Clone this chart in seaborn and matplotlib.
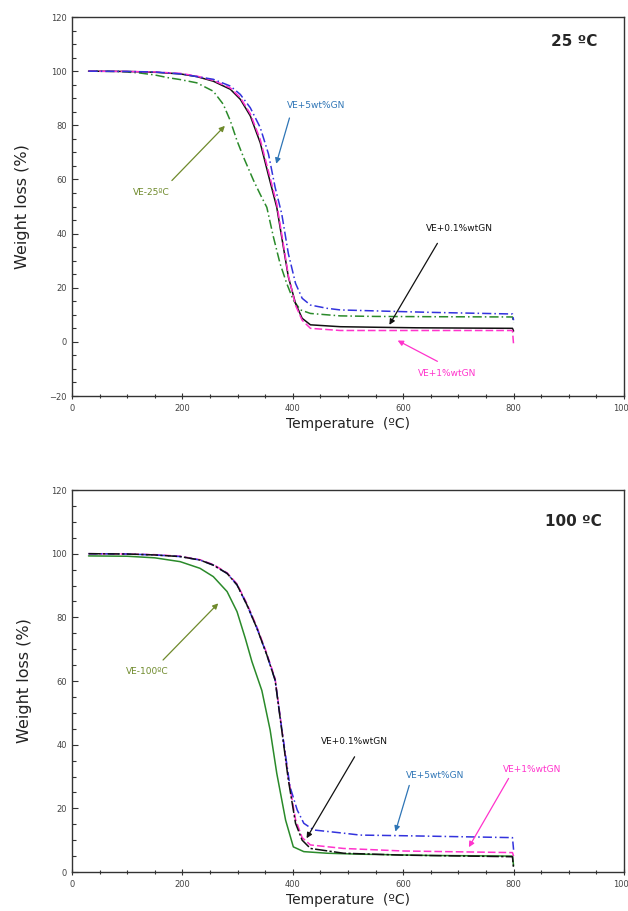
import matplotlib
matplotlib.use("Agg")
import matplotlib.pyplot as plt
import seaborn as sns
import pandas as pd
from matplotlib.ticker import MultipleLocator

# ---------------- data: 25 °C panel ----------------
t25_green = [30, 80, 120, 150, 174, 196, 226, 256, 274, 287, 299, 311, 329, 341, 353, 365, 377,
             389, 401, 414, 432, 486, 550, 650, 798, 800]
w25_green = [100, 99.9, 99.4, 98.6, 97.6, 96.9, 95.7, 92.6, 87.8, 81.6, 74.3, 68.1, 59.6, 54.5, 49.7,
             38.7, 28.9, 21.6, 15.4, 11.8, 10.5, 9.6, 9.4, 9.3, 9.2, 7.0]

t25_black = [30, 100, 150, 196, 226, 256, 287, 305, 323, 341, 356, 371, 383, 392, 405, 417, 432,
             486, 550, 624, 798, 800]
w25_black = [100, 99.9, 99.6, 99.0, 98.0, 96.3, 93.3, 89.6, 83.5, 73.6, 61.5, 49.7, 35.0, 24.0, 14.2,
             8.7, 6.3, 5.6, 5.4, 5.2, 5.0, 4.0]

t25_mag = [30, 100, 150, 196, 226, 256, 287, 305, 323, 341, 356, 371, 383, 392, 405, 417, 432,
           486, 550, 624, 798, 800]
w25_mag = [100, 99.9, 99.7, 99.2, 98.2, 96.6, 93.8, 90.2, 84.3, 74.8, 63.0, 51.0, 36.0, 24.5, 13.5,
           8.0, 5.0, 4.2, 4.2, 4.2, 4.2, -1.0]

t25_blue = [30, 100, 150, 196, 256, 287, 305, 323, 341, 356, 368, 380, 392, 405, 417, 432, 462,
            486, 575, 650, 798, 800]
w25_blue = [100, 99.9, 99.7, 99.0, 97.0, 94.5, 91.4, 86.5, 79.2, 69.4, 57.1, 47.3, 32.6, 21.6, 16.1,
            13.6, 12.4, 11.8, 11.3, 10.9, 10.3, 8.0]

# ---------------- data: 100 °C panel ----------------
t100_green = [30, 100, 150, 196, 232, 256, 281, 299, 314, 326, 344, 359, 371, 387, 401, 420, 462,
              522, 650, 798, 800]
w100_green = [99.3, 99.2, 98.7, 97.5, 95.4, 92.8, 88.1, 81.8, 73.4, 66.1, 57.0, 44.6, 31.0, 16.3, 7.9,
              6.4, 5.9, 5.6, 5.2, 5.0, 2.0]

t100_black = [30, 100, 150, 196, 232, 256, 281, 299, 317, 335, 353, 368, 380, 392, 405, 417, 432,
              492, 600, 798, 800]
w100_black = [100, 99.9, 99.6, 99.1, 98.0, 96.4, 93.8, 90.2, 83.9, 76.6, 68.2, 60.3, 44.6, 28.9, 15.3,
              10.0, 7.4, 5.9, 5.3, 4.8, 1.0]

t100_mag = [30, 100, 150, 196, 232, 256, 281, 299, 317, 335, 353, 368, 380, 392, 405, 417, 432,
            492, 600, 798, 800]
w100_mag = [100, 99.9, 99.7, 99.2, 98.1, 96.6, 94.0, 90.5, 84.3, 77.0, 68.6, 60.8, 45.2, 29.6, 16.5,
            10.8, 8.5, 7.4, 6.6, 6.1, 5.0]

t100_blue = [30, 100, 150, 196, 232, 256, 281, 299, 317, 335, 353, 368, 380, 395, 408, 420, 438,
             492, 522, 600, 700, 798, 800]
w100_blue = [100, 99.9, 99.6, 99.1, 98.0, 96.4, 93.8, 90.2, 83.9, 76.6, 68.2, 60.3, 45.0, 26.8, 19.5,
             15.3, 13.2, 12.2, 11.6, 11.4, 11.1, 10.8, 7.0]

xticks = [0, 200, 400, 600, 800, 1000]

C_BLACK = "#111111"
C_MAG = "#ff33cc"
C_BLUE = "#3333dd"
C_GREEN = "#2a8a2a"
T_BLUE = "#2e75b6"
T_OLIVE = "#6f8a2c"

DASHDOT = (0, (6, 2, 1, 2))
DASHED = (0, (5, 2))

sns.set_style("ticks")
plt.rcParams['font.family'] = ['DejaVu Sans']

fig = plt.figure(figsize=(6.28, 9.11), dpi=100)
ax1 = fig.add_axes([0.1146, 0.5653, 0.879, 0.416])
ax2 = fig.add_axes([0.1146, 0.0428, 0.879, 0.4193])


def draw(ax, specs):
    for (t, w), col, ls in specs:
        df = pd.DataFrame({"T": t, "W": w})
        sns.lineplot(data=df, x="T", y="W", ax=ax, color=col, lw=1.1,
                     sort=False, estimator=None, linestyle=ls)


draw(ax1, [((t25_green, w25_green), C_GREEN, DASHDOT),
           ((t25_black, w25_black), C_BLACK, "-"),
           ((t25_mag, w25_mag), C_MAG, DASHED),
           ((t25_blue, w25_blue), C_BLUE, DASHDOT)])
draw(ax2, [((t100_green, w100_green), C_GREEN, "-"),
           ((t100_mag, w100_mag), C_MAG, DASHED),
           ((t100_blue, w100_blue), C_BLUE, DASHDOT),
           ((t100_black, w100_black), C_BLACK, (0, (8, 1.5, 1.5, 1.5)))])

ax1.set_ylim(-20, 120)
ax2.set_ylim(0, 120)
for ax in (ax1, ax2):
    ax.set_xlim(0, 1000)
    ax.set_xticks(xticks)
    ax.xaxis.set_minor_locator(MultipleLocator(50))
    ax.yaxis.set_major_locator(MultipleLocator(20))
    ax.yaxis.set_minor_locator(MultipleLocator(5))
    ax.tick_params(which="both", direction="inout", labelsize=6, colors="#333333",
                   labelcolor="#444444", width=0.8)
    ax.tick_params(which="major", length=4)
    ax.tick_params(which="minor", length=3)
    ax.tick_params(axis="y", which="both", direction="in")
    for s in ax.spines.values():
        s.set_color("#333333")
        s.set_linewidth(1.0)
    ax.set_xlabel("Temperature  (ºC)", fontsize=10, color="#222222", labelpad=3)
    ax.set_ylabel("Weight loss (%)", fontsize=11.5, color="#222222", labelpad=14)

ax1.text(909, 111, "25 ºC", fontsize=11, fontweight="bold", ha="center", va="center")
ax2.text(909, 110, "100 ºC", fontsize=11, fontweight="bold", ha="center", va="center")


def ap(c):
    return dict(arrowstyle="-|>", color=c, lw=0.9, mutation_scale=8, shrinkA=0, shrinkB=0)


# top annotations
ax1.annotate("", xy=(370, 65.8), xytext=(394, 82.7), arrowprops=ap(T_BLUE))
ax1.text(442, 87.5, "VE+5wt%GN", color=T_BLUE, fontsize=6.5, ha="center", va="center")
ax1.annotate("", xy=(277, 79.8), xytext=(181, 59.6), arrowprops=ap(T_OLIVE))
ax1.text(143, 55, "VE-25ºC", color=T_OLIVE, fontsize=6.5, ha="center", va="center")
ax1.annotate("", xy=(575, 6.3), xytext=(662, 36.4), arrowprops=ap(C_BLACK))
ax1.text(702, 42, "VE+0.1%wtGN", color=C_BLACK, fontsize=6.5, ha="center", va="center")
ax1.annotate("", xy=(590, 0.5), xytext=(662, -7.2), arrowprops=ap(C_MAG))
ax1.text(680, -11.8, "VE+1%wtGN", color=C_MAG, fontsize=6.5, ha="center", va="center")

# bottom annotations
ax2.annotate("", xy=(265, 84.4), xytext=(165, 66.6), arrowprops=ap(T_OLIVE))
ax2.text(136, 63, "VE-100ºC", color=T_OLIVE, fontsize=6.5, ha="center", va="center")
ax2.annotate("", xy=(425, 10.6), xytext=(512, 36.2), arrowprops=ap(C_BLACK))
ax2.text(512, 41, "VE+0.1%wtGN", color=C_BLACK, fontsize=6.5, ha="center", va="center")
ax2.annotate("", xy=(586, 12.7), xytext=(611, 27.2), arrowprops=ap(T_BLUE))
ax2.text(657, 30.2, "VE+5wt%GN", color=T_BLUE, fontsize=6.5, ha="center", va="center")
ax2.annotate("", xy=(719, 7.8), xytext=(791, 29.4), arrowprops=ap(C_MAG))
ax2.text(834, 32.2, "VE+1%wtGN", color=C_MAG, fontsize=6.5, ha="center", va="center")

fig.savefig("out.png", dpi=100)
